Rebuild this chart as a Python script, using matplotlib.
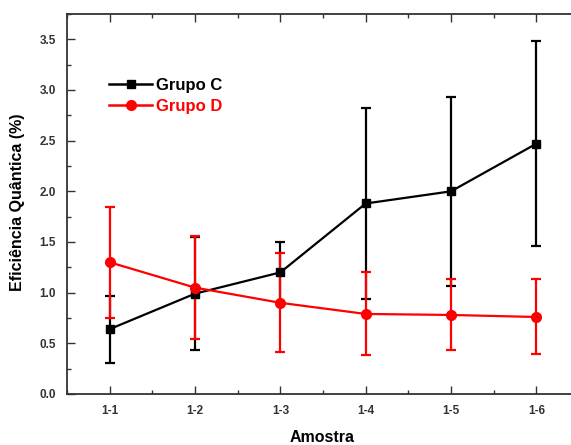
import matplotlib
matplotlib.use('Agg')
import matplotlib.pyplot as plt
from matplotlib.lines import Line2D
from matplotlib.ticker import MultipleLocator

plt.rcParams['font.family'] = ['Liberation Sans', 'DejaVu Sans']
plt.rcParams['font.weight'] = 'bold'

amostras = ['1-1', '1-2', '1-3', '1-4', '1-5', '1-6']
grupo_c = [0.64, 0.99, 1.20, 1.88, 2.00, 2.47]
grupo_c_err = [0.33, 0.56, 0.30, 0.94, 0.93, 1.01]
grupo_d = [1.30, 1.05, 0.90, 0.79, 0.78, 0.76]
grupo_d_err = [0.55, 0.51, 0.49, 0.41, 0.35, 0.37]

RED = '#ff0000'
fig = plt.figure(figsize=(5.71, 4.45), dpi=100)
ax = fig.add_axes([67/571, 51/445, 512/571, 380/445])

x = list(range(1, len(amostras) + 1))
ax.errorbar(x, grupo_c, yerr=grupo_c_err, color='black', marker='s',
            markersize=6, linewidth=1.6, elinewidth=1.6, capsize=3.6,
            capthick=1.6)
ax.errorbar(x, grupo_d, yerr=grupo_d_err, color=RED, marker='o',
            markersize=7, linewidth=1.6, elinewidth=1.6, capsize=3.6,
            capthick=1.6)

ax.set_xlim(0.5, 6.5)
ax.set_ylim(0, 3.75)
ax.set_xticks(x)
ax.set_xticklabels(amostras)
ax.xaxis.set_minor_locator(MultipleLocator(0.5))
ax.yaxis.set_major_locator(MultipleLocator(0.5))
ax.yaxis.set_minor_locator(MultipleLocator(0.25))
ax.tick_params(which='both', direction='in', top=True, right=True,
               colors='#333333', labelsize=8.5, width=1)
ax.tick_params(which='major', length=6, pad=8)
ax.tick_params(which='minor', length=3)
for s in ax.spines.values():
    s.set_color('#333333')
    s.set_linewidth(1.3)

ax.set_xlabel('Amostra', fontsize=11.5, fontweight='bold')
ax.set_ylabel('Eficiência Quântica (%)', fontsize=11.5, fontweight='bold')
ax.xaxis.set_label_coords((322 - 67) / 512, -(430 - 394) / 380)
ax.yaxis.set_label_coords(-(67 - 25) / 512, (394 - 202) / 380)

handles = [Line2D([], [], color='black', marker='s', markersize=6,
                  linewidth=1.8),
           Line2D([], [], color=RED, marker='o', markersize=7,
                  linewidth=1.8)]
leg = ax.legend(handles, ['Grupo C', 'Grupo D'], loc='upper left',
                bbox_to_anchor=((109 - 67) / 512, (394 - 78) / 380),
                frameon=False, fontsize=12, handlelength=2.6,
                handletextpad=0.2, labelspacing=0.35, borderpad=0,
                borderaxespad=0)
leg.get_texts()[1].set_color(RED)

fig.savefig('out.png', dpi=100)
